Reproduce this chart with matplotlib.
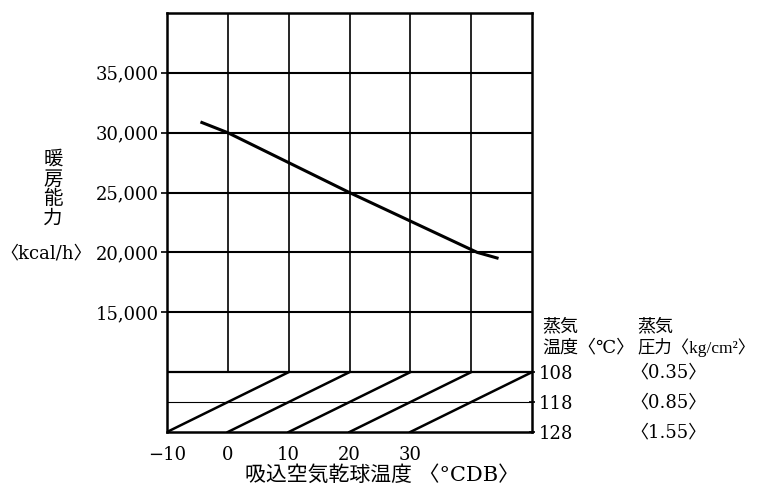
import matplotlib.pyplot as plt
from matplotlib.transforms import blended_transform_factory

plt.rcParams['font.family'] = ['DejaVu Serif', 'Noto Sans CJK JP']

# 吸込空気乾球温度 (°CDB) に対する暖房能力 (kcal/h)
temp_db = [-4.5, 0, 20, 41, 44.5]
capacity = [30900, 30000, 25000, 20000, 19500]

x_ticks = [-10, 0, 10, 20, 30]
x_tick_labels = ['−10', '0', '10', '20', '30']
y_ticks = [15000, 20000, 25000, 30000, 35000]
y_tick_labels = ['15,000', '20,000', '25,000', '30,000', '35,000']
x_grid = [0, 10, 20, 30, 40]

# 蒸気温度と蒸気圧力
steam_temp = [108, 118, 128]
steam_press = ['〈0.35〉', '〈0.85〉', '〈1.55〉']
diag_start = [-10, 0, 10, 20, 30]

W, H = 758, 486
fig = plt.figure(figsize=(W / 100, H / 100), dpi=100)
ax = fig.add_axes([167 / W, 1 - 432 / H, (532 - 167) / W, (432 - 13) / H])
ax.set_xlim(-10, 50)
ax.set_ylim(5000, 40000)

# 格子
ax.vlines(x_grid, 10000, 40000, colors='black', lw=1.2)
ax.hlines(y_ticks, -10, 50, colors='black', lw=1.5)
ax.hlines(10000, -10, 50, colors='black', lw=1.6)
ax.hlines(7500, -10, 50, colors='black', lw=0.8)

# 蒸気温度の斜線 (下の帯)
for x0 in diag_start:
    ax.plot([x0, x0 + 20], [5000, 10000], color='black', lw=1.8)

# 暖房能力の線
ax.plot(temp_db, capacity, color='black', lw=2.2, solid_capstyle='butt')

for s in ax.spines.values():
    s.set_linewidth(1.8)

ax.set_xticks(x_ticks)
ax.set_xticklabels(x_tick_labels, fontsize=13)
ax.tick_params(axis='x', length=0, pad=10)
ax.set_yticks(y_ticks)
ax.set_yticklabels(y_tick_labels, fontsize=13)
ax.tick_params(axis='y', length=4, width=1.2, pad=2, direction='out')

# 右側の蒸気温度目盛
ax2 = ax.twinx()
ax2.set_ylim(128, -12)
ax2.set_yticks(steam_temp)
ax2.set_yticklabels([str(t) for t in steam_temp], fontsize=13)
ax2.tick_params(axis='y', length=4, width=1.2, pad=3, direction='inout')
for s in ax2.spines.values():
    s.set_visible(False)

tr = blended_transform_factory(fig.transFigure, ax2.transData)
for t, p in zip(steam_temp, steam_press):
    ax2.text(630 / W, t, p, transform=tr, fontsize=13, va='center', ha='left')

fig.text(542 / W, 1 - 326 / H, '蒸気', fontsize=13, va='center', ha='left')
fig.text(542 / W, 1 - 347 / H, '温度〈℃〉', fontsize=13, va='center', ha='left')
fig.text(637 / W, 1 - 326 / H, '蒸気', fontsize=13, va='center', ha='left')
fig.text(637 / W, 1 - 347 / H, '圧力〈kg/cm²〉', fontsize=12.5, va='center', ha='left',
         family=['Liberation Serif', 'Noto Sans CJK JP'])

# 縦書きの軸ラベル
for i, ch in enumerate('暖房能力'):
    fig.text(53 / W, 1 - (160 + 19.5 * i) / H, ch, fontsize=14, va='center', ha='center')
fig.text(0 / W, 1 - 253 / H, '〈kcal/h〉', fontsize=13, va='center', ha='left')

fig.text(245 / W, 1 - 475 / H, '吸込空気乾球温度 〈°CDB〉', fontsize=15, va='center', ha='left')

fig.savefig('out.png', dpi=100)
